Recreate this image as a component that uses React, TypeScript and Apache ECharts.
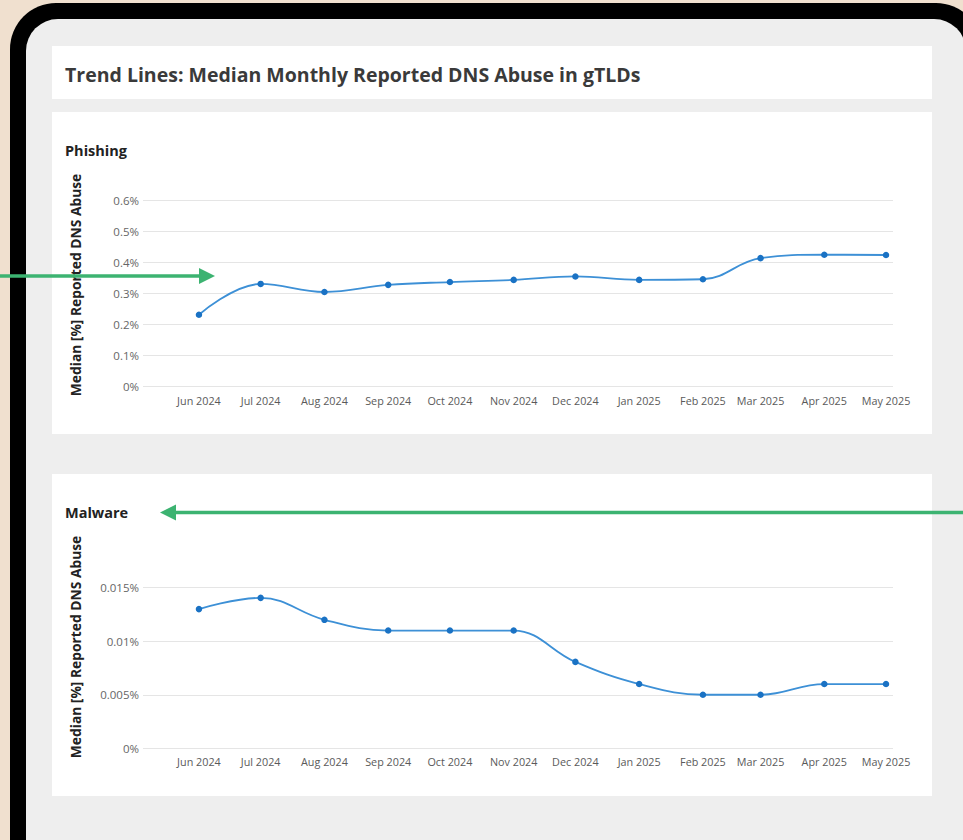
import React, { useEffect, useRef } from "react";
import * as echarts from "echarts";

const monthDates: [number, number][] = [
  [2024, 6], [2024, 7], [2024, 8], [2024, 9], [2024, 10], [2024, 11],
  [2024, 12], [2025, 1], [2025, 2], [2025, 3], [2025, 4], [2025, 5],
];
const monthLabels = [
  "Jun 2024", "Jul 2024", "Aug 2024", "Sep 2024", "Oct 2024", "Nov 2024",
  "Dec 2024", "Jan 2025", "Feb 2025", "Mar 2025", "Apr 2025", "May 2025",
];
const phishingValues = [0.231, 0.330, 0.304, 0.327, 0.336, 0.343, 0.354, 0.343, 0.345, 0.413, 0.424, 0.423];
const malwareValues = [0.013, 0.01405, 0.012, 0.011, 0.011, 0.011, 0.00807, 0.006, 0.005, 0.005, 0.006, 0.006];

const chartTitle = "Trend Lines: Median Monthly Reported DNS Abuse in gTLDs";
const panelTitles = ["Phishing", "Malware"];
const yAxisTitle = "Median [%] Reported DNS Abuse";

const FONT = "'Open Sans', 'Noto Sans', sans-serif";
const DAY = 86400000;

export default function App() {
  const ref = useRef<HTMLDivElement>(null);
  useEffect(() => {
    if (!ref.current) return;
    const chart = echarts.init(ref.current, null, { renderer: "svg" });
    const t0 = Date.UTC(monthDates[0][0], monthDates[0][1] - 1, 1);
    // day offsets from first month (time scale expressed in days)
    const days = monthDates.map(([y, m]) => Math.round((Date.UTC(y, m - 1, 1) - t0) / DAY));
    const xMin = days[0] - 27.2;
    const xMax = days[days.length - 1] + 3.4;
    const labelFor = (v: number) => {
      const i = days.findIndex((d) => Math.abs(d - v) < 0.5);
      return i >= 0 ? monthLabels[i] : "";
    };
    const pct = (v: number) => parseFloat(v.toFixed(4)) + "%";

    const xAxisBase = (gridIndex: number) => ({
      type: "value" as const,
      gridIndex,
      min: xMin,
      max: xMax,
      axisLine: { show: false },
      axisTick: { show: false },
      splitLine: { show: false },
      axisLabel: {
        customValues: days,
        formatter: (v: number) => labelFor(v),
        fontFamily: FONT,
        fontSize: 10.8,
        color: "#5a5a5a",
        margin: 8,
        hideOverlap: false,
      },
    });
    const yAxisBase = (gridIndex: number, max: number, interval: number) => ({
      type: "value" as const,
      gridIndex,
      min: 0,
      max,
      interval,
      axisLine: { show: false },
      axisTick: { show: false },
      splitLine: { show: true, lineStyle: { color: "#e5e5e5", width: 1.2 } },
      axisLabel: {
        formatter: (v: number) => pct(v),
        fontFamily: FONT,
        fontSize: 11.5,
        color: "#666",
        margin: 4,
      },
    });
    const seriesBase = (idx: number, vals: number[]) => ({
      type: "line" as const,
      xAxisIndex: idx,
      yAxisIndex: idx,
      data: days.map((d, i) => [d, vals[i]]),
      smooth: 0.4,
      symbol: "circle",
      symbolSize: 6.5,
      lineStyle: { color: "#3d90d6", width: 1.8 },
      itemStyle: { color: "#1a72c4" },
      z: 5,
    });

    const green = "#3cb371";
    chart.setOption({
      animation: false,
      grid: [
        { left: 143, width: 750, top: 200, height: 186.5 },
        { left: 143, width: 750, top: 587.7, height: 160.6 },
      ],
      xAxis: [xAxisBase(0), xAxisBase(1)],
      yAxis: [yAxisBase(0, 0.6, 0.1), yAxisBase(1, 0.015, 0.005)],
      series: [seriesBase(0, phishingValues), seriesBase(1, malwareValues)],
      graphic: [
        { type: "rect", z: -30, silent: true, shape: { x: 0, y: 0, width: 963, height: 840 }, style: { fill: "#f0e0cf" } },
        { type: "rect", z: -29, silent: true, shape: { x: 10, y: 3, width: 972, height: 1000, r: 46 }, style: { fill: "#000" } },
        { type: "rect", z: -28, silent: true, shape: { x: 26, y: 19, width: 940, height: 1000, r: 32 }, style: { fill: "#eeeeee" } },
        { type: "rect", z: -27, silent: true, shape: { x: 52, y: 46, width: 880, height: 53 }, style: { fill: "#fff" } },
        { type: "rect", z: -27, silent: true, shape: { x: 52, y: 112, width: 880, height: 322 }, style: { fill: "#fff" } },
        { type: "rect", z: -27, silent: true, shape: { x: 52, y: 474, width: 880, height: 322 }, style: { fill: "#fff" } },
        { type: "text", z: 50, x: 65, y: 74, style: { text: chartTitle, fontFamily: FONT, fontSize: 19.5, fontWeight: "bold", fill: "#3a3a3a", verticalAlign: "middle" } },
        { type: "text", z: 50, x: 65, y: 150, style: { text: panelTitles[0], fontFamily: FONT, fontSize: 14.5, fontWeight: "bold", fill: "#222", verticalAlign: "middle" } },
        { type: "text", z: 50, x: 65, y: 512, style: { text: panelTitles[1], fontFamily: FONT, fontSize: 14.5, fontWeight: "bold", fill: "#222", verticalAlign: "middle" } },
        { type: "text", z: 50, x: 75, y: 285, rotation: Math.PI / 2, style: { text: yAxisTitle, fontFamily: FONT, fontSize: 13.8, fontWeight: "bold", fill: "#222", align: "center", verticalAlign: "middle" } },
        { type: "text", z: 50, x: 75, y: 647, rotation: Math.PI / 2, style: { text: yAxisTitle, fontFamily: FONT, fontSize: 13.8, fontWeight: "bold", fill: "#222", align: "center", verticalAlign: "middle" } },
        { type: "line", z: 60, shape: { x1: 0, y1: 276, x2: 201, y2: 276 }, style: { stroke: green, lineWidth: 3.3 } },
        { type: "polygon", z: 60, shape: { points: [[199, 268], [215, 276], [199, 284]] }, style: { fill: green } },
        { type: "line", z: 60, shape: { x1: 174, y1: 512.5, x2: 963, y2: 512.5 }, style: { stroke: green, lineWidth: 3.3 } },
        { type: "polygon", z: 60, shape: { points: [[176, 504.5], [160, 512.5], [176, 520.5]] }, style: { fill: green } },
      ],
    });
    return () => chart.dispose();
  }, []);
  return <div ref={ref} style={{ position: "absolute", left: 0, top: 0, width: 963, height: 840 }} />;
}
